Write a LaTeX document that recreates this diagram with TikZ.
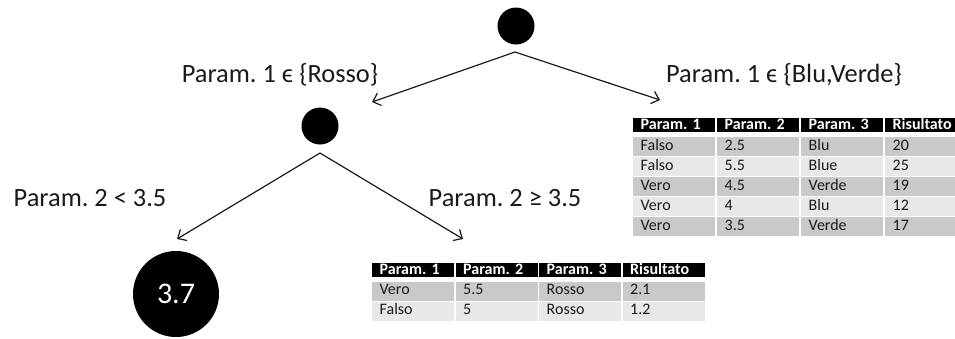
\documentclass[tikz,border=0pt]{standalone}
\usepackage{fontspec}
\setmainfont{Carlito}
\usetikzlibrary{arrows.meta}
\definecolor{rowdark}{HTML}{C9C9C9}
\definecolor{rowlight}{HTML}{E8E8E8}
\definecolor{inkgray}{HTML}{1A1A1A}
\frenchspacing
\begin{document}
\begin{tikzpicture}[x=1pt,y=-1pt,
  dot/.style={circle,fill=black,inner sep=0pt,minimum size=37pt},
  leaf/.style={circle,fill=black,inner sep=0pt,minimum size=86pt,text=white,font=\fontsize{30}{34}\selectfont},
  lbl/.style={font=\fontsize{26.4}{30}\selectfont,inner sep=0pt,anchor=base,text=inkgray},
  conn/.style={draw=inkgray,line width=1.2pt,-{Straight Barb[length=7pt,width=13pt]}},
  cellbase/.style={anchor=north west,inner xsep=7.5pt,inner ysep=0pt,text width=67pt,align=left,
    font=\fontsize{16}{18}\selectfont,text height=10.5pt,text depth=3pt},
  hcell/.style={cellbase,fill=black,text=white,font=\bfseries\fontsize{16}{18}\selectfont,minimum height=14pt,text height=11pt,text depth=3pt},
  dcell/.style={cellbase,text=inkgray,minimum height=19pt},
]
\useasboundingbox (0,0) rectangle (955,338);
\clip (0,0) rectangle (955,338);

% tree nodes
\node[dot] (root) at (516,26) {};
\node[dot] (mid) at (320,126) {};
\node[leaf] (lf) at (176,294) {3.7};

% labels
\node[lbl] (l1) at (280,82) {Param. 1 ϵ \{Rosso\}};
\node[lbl] (l2) at (784,82) {Param. 1 ϵ \{Blu,Verde\}};
\node[lbl] (l3) at (90,206) {Param. 2 < 3.5};
\node[lbl] (l4) at (505,206) {Param. 2 ≥ 3.5};

% connectors
\coordinate (rap) at (515,52);
\coordinate (mapx) at (320,153);
\coordinate (tl) at (372,102);
\coordinate (tr) at (660,100);
\coordinate (ml) at (177,239);
\coordinate (mr) at (463,239);
\draw[conn] (rap) -- (tl);
\draw[conn] (rap) -- (tr);
\draw[conn] (mapx) -- (ml);
\draw[conn] (mapx) -- (mr);

% right table
\foreach \t [count=\j] in {Param. 1,Param. 2,Param. 3,Risultato}{
  \node[hcell] (RH\j) at ({633+84*(\j-1)},118) {\t};
}
\foreach \a/\b/\c/\d/\f [count=\i] in {Falso/2.5/Blu/20/rowdark,Falso/5.5/Blue/25/rowlight,Vero/4.5/Verde/19/rowdark,Vero/4/Blu/12/rowlight,Vero/3.5/Verde/17/rowdark}{
  \pgfmathsetmacro\yy{137+20*(\i-1)}
  \foreach \t [count=\j] in {\a,\b,\c,\d}{
    \node[dcell,fill=\f] (R\i-\j) at ({633+84*(\j-1)},\yy) {\t};
  }
}

% bottom table
\foreach \t [count=\j] in {Param. 1,Param. 2,Param. 3,Risultato}{
  \node[hcell] (BH\j) at ({372+83.5*(\j-1)},263) {\t};
}
\foreach \a/\b/\c/\d/\f [count=\i] in {Vero/5.5/Rosso/2.1/rowdark,Falso/5/Rosso/1.2/rowlight}{
  \pgfmathsetmacro\yy{281.5+20*(\i-1)}
  \foreach \t [count=\j] in {\a,\b,\c,\d}{
    \node[dcell,fill=\f] (B\i-\j) at ({372+83.5*(\j-1)},\yy) {\t};
  }
}
\end{tikzpicture}
\end{document}
